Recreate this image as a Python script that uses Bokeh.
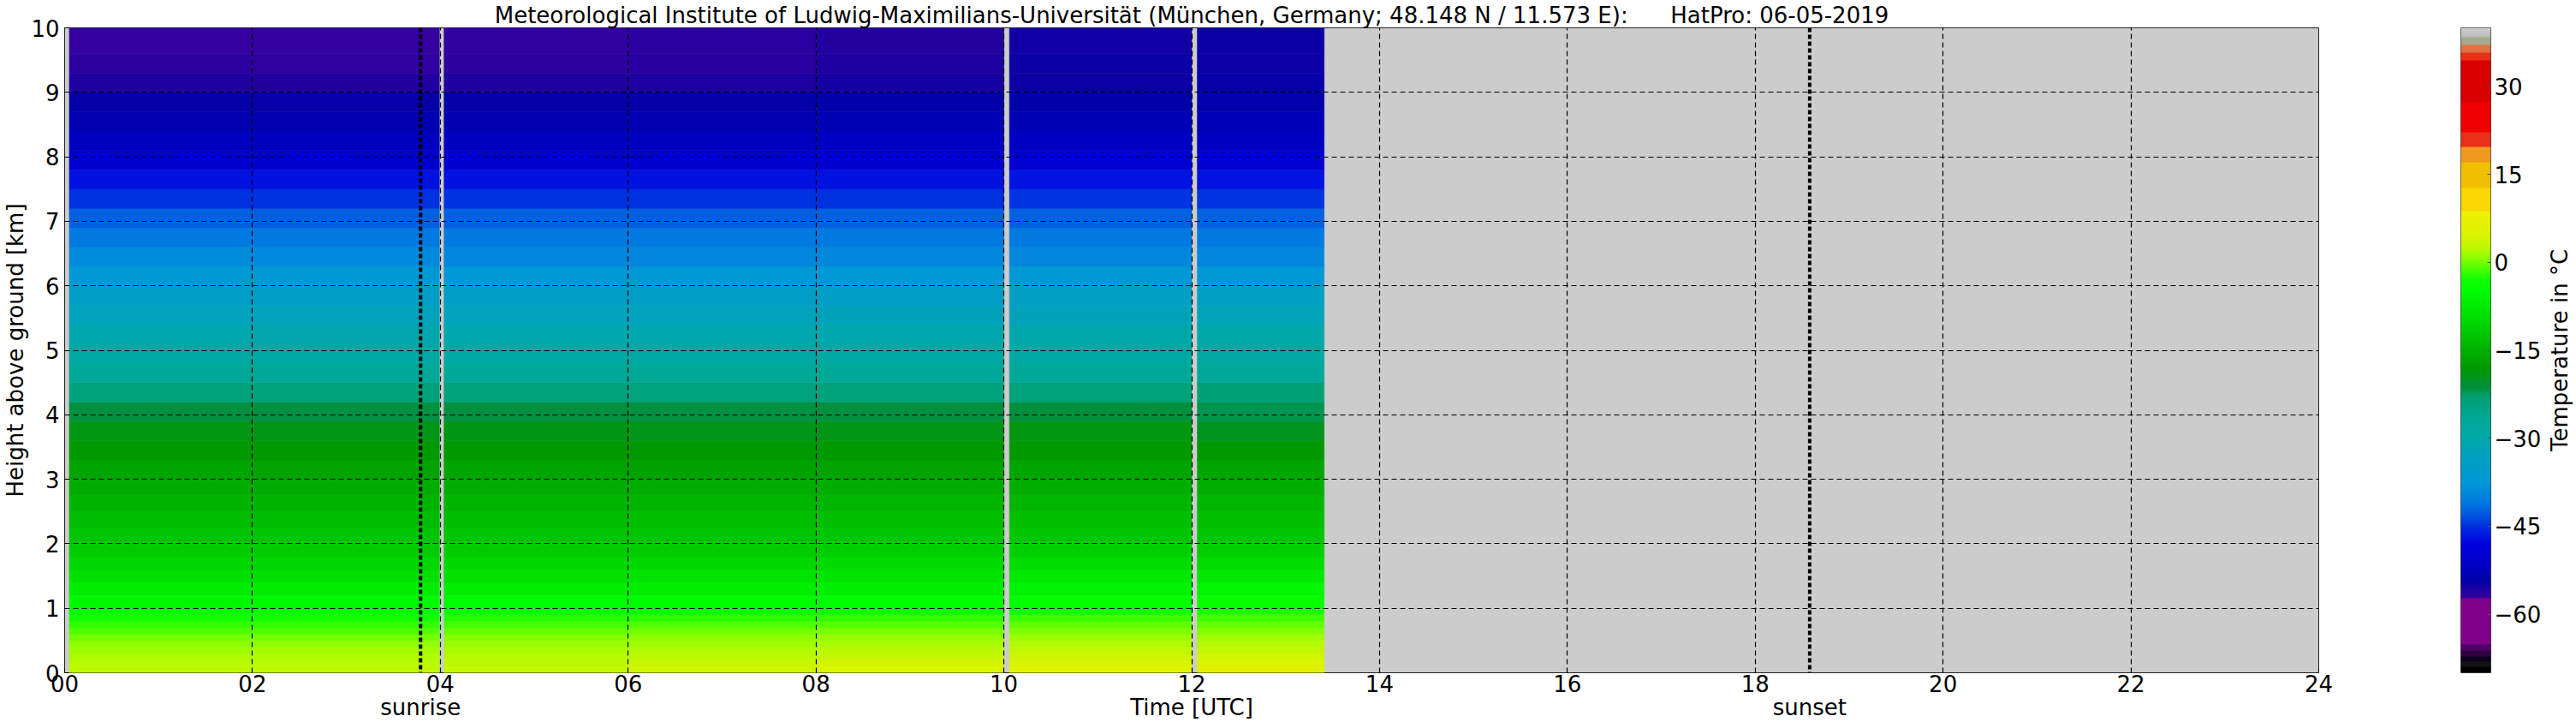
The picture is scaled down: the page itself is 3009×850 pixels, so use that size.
import numpy as np
from bokeh.plotting import figure
from bokeh.models import (ColumnDataSource, LinearColorMapper, FixedTicker,
                          LinearAxis, Span, Title)
from bokeh.layouts import row
from bokeh.transform import transform
from bokeh.embed import file_html
from bokeh.resources import INLINE

# ---------------- data ----------------
# layer boundaries of the retrieval grid [km]
heights = [0, 0.1, 0.2, 0.3, 0.4, 0.5, 0.6, 0.7, 0.8, 0.9, 1.0,
           1.2, 1.4, 1.6, 1.8, 2.0, 2.25, 2.5, 2.75, 3.0,
           3.3, 3.6, 3.9, 4.2, 4.5, 4.8, 5.1, 5.4, 5.7, 6.0,
           6.3, 6.6, 6.9, 7.2, 7.5, 7.8, 8.1, 8.4, 8.7, 9.0, 9.3, 9.6, 10.0]

# time blocks [UTC hours] (gaps = missing data)
block_start = [0.05, 2.0, 4.04, 6.0, 8.0, 10.06, 12.06]
block_end = [2.0, 3.99, 6.0, 8.0, 10.0, 12.0, 13.41]

# temperature profiles [deg C], one per block, bottom -> top
temp_00 = [2.7, 2.3, 1.9, 1.4, 0.8, 0.0, -1.0, -2.0, -3.0, -4.0,
           -5.3, -7.2, -9.0, -10.3, -11.6, -12.6, -13.6, -14.6, -15.6,
           -16.6, -17.9, -19.0, -21.5, -24.0, -26.5, -29.0, -30.5, -32.5, -34.0,
           -37.0, -39.0, -40.8, -42.5, -45.0, -47.0, -50.5, -52.3, -53.5, -54.5, -56.0, -56.8, -57.1]
temp_02 = [2.8, 2.4, 2.0, 1.5, 0.9, 0.1, -0.9, -1.9, -2.9, -3.9,
           -5.2, -7.1, -8.9, -10.2, -11.5, -12.5, -13.5, -14.6, -15.6,
           -16.7, -18.0, -19.2, -21.6, -24.0, -26.5, -29.0, -30.6, -32.5, -34.2,
           -37.2, -39.2, -41.0, -42.6, -45.0, -47.0, -50.5, -52.4, -53.6, -54.6, -56.1, -56.9, -57.1]
temp_04 = [3.0, 2.6, 2.2, 1.8, 1.2, 0.5, -0.5, -1.5, -2.5, -3.6,
           -5.0, -7.0, -8.8, -10.0, -11.5, -12.5, -13.5, -14.5, -15.5,
           -16.6, -17.9, -19.1, -21.5, -24.0, -26.5, -29.0, -30.5, -32.5, -34.0,
           -37.5, -39.5, -41.0, -42.5, -45.0, -47.0, -50.5, -52.3, -53.5, -54.5, -56.0, -56.8, -57.0]
temp_06 = [3.8, 3.2, 2.6, 2.0, 1.4, 0.8, -0.1, -1.1, -2.2, -3.4,
           -4.8, -6.8, -8.6, -9.9, -11.4, -12.4, -13.4, -14.4, -15.5,
           -16.8, -18.0, -19.3, -21.6, -24.2, -26.6, -29.0, -30.5, -32.4, -34.0,
           -37.5, -39.6, -41.0, -42.6, -45.0, -47.0, -50.4, -52.2, -53.4, -54.4, -55.8, -56.4, -56.6]
temp_08 = [4.8, 4.0, 3.2, 2.5, 1.8, 1.0, 0.2, -0.8, -2.0, -3.2,
           -4.6, -6.6, -8.4, -9.8, -11.3, -12.3, -13.3, -14.3, -15.4,
           -16.7, -18.0, -19.2, -21.5, -24.0, -26.5, -29.0, -30.4, -32.3, -34.0,
           -37.4, -39.5, -41.0, -42.5, -45.0, -47.0, -50.3, -52.1, -53.3, -54.3, -55.5, -56.0, -56.2]
temp_10 = [5.5, 4.6, 3.8, 3.0, 2.1, 1.3, 0.4, -0.6, -1.7, -2.8,
           -4.2, -6.2, -8.0, -9.6, -11.1, -12.2, -13.2, -14.2, -15.3,
           -16.6, -17.8, -19.0, -21.3, -23.8, -26.4, -28.8, -30.3, -32.2, -33.8,
           -37.3, -39.4, -40.8, -42.4, -44.8, -46.8, -50.0, -52.0, -53.2, -54.2, -54.8, -55.0, -55.2]
temp_12 = [6.0, 4.8, 4.0, 3.1, 2.2, 1.4, 0.5, -0.5, -1.5, -2.6,
           -4.0, -6.0, -7.8, -9.5, -11.0, -12.2, -13.2, -14.2, -15.3,
           -16.5, -17.8, -19.8, -22.0, -23.5, -26.8, -28.5, -30.2, -32.0, -33.8,
           -37.4, -39.6, -41.0, -42.5, -44.8, -46.8, -50.0, -52.0, -53.0, -54.0, -54.6, -54.8, -55.0]
profiles = [temp_00, temp_02, temp_04, temp_06, temp_08, temp_10, temp_12]

sunrise = 3.79
sunset = 18.58

x_ticks = list(range(0, 25, 2))
y_ticks = list(range(0, 11))
cbar_ticks = [-60, -45, -30, -15, 0, 15, 30]
cbar_low, cbar_high = -70, 40

NB = '\u00a0'
title = ("Meteorological Institute of Ludwig-Maximilians-Universit\u00e4t "
         "(M\u00fcnchen, Germany; 48.148 N / 11.573 E):" + NB * 6 + "HatPro: 06-05-2019")
x_label = "Time [UTC]"
y_label = "Height above ground [km]"
cbar_label = "Temperature in \u00b0C"

# ---------------- colormap (style) ----------------
segments = [
    (-70.0, -69.0, '#000000', '#000000'),
    (-69.0, -68.1, '#121212', '#121212'),
    (-68.1, -67.3, '#100020', '#100020'),
    (-67.3, -66.2, '#300040', '#300040'),
    (-66.2, -65.2, '#500068', '#500068'),
    (-65.2, -57.3, '#800088', '#800088'),
    (-57.3, -56.0, '#3800a0', '#2000a0'),
    (-56.0, -54.3, '#2000a0', '#0000a8'),
    (-54.3, -52.3, '#0000a8', '#0000c0'),
    (-52.3, -48.0, '#0000c0', '#0000e0'),
    (-48.0, -45.0, '#0000e0', '#0030e0'),
    (-45.0, -43.0, '#0030e0', '#0058e0'),
    (-43.0, -41.0, '#0058e0', '#0078e0'),
    (-41.0, -37.7, '#0078e0', '#0098d8'),
    (-37.7, -33.0, '#0098d8', '#00a0c0'),
    (-33.0, -30.0, '#00a0c0', '#00a8a8'),
    (-30.0, -26.5, '#00a8a8', '#00a898'),
    (-26.5, -23.0, '#00a898', '#00a070'),
    (-23.0, -21.5, '#00a070', '#009040'),
    (-21.5, -18.0, '#009040', '#009900'),
    (-18.0, -13.0, '#009900', '#00c000'),
    (-13.0, -9.0, '#00c000', '#00e000'),
    (-9.0, -4.5, '#00e000', '#00ff00'),
    (-4.5, -3.0, '#00ff00', '#10ff00'),
    (-3.0, -1.0, '#10ff00', '#50ff00'),
    (-1.0, 0.9, '#50ff00', '#90ff00'),
    (0.9, 2.3, '#90ff00', '#b8fa00'),
    (2.3, 4.3, '#b8fa00', '#d8f400'),
    (4.3, 8.8, '#d8f400', '#f0f000'),
    (8.8, 12.7, '#f8d800', '#f8d800'),
    (12.7, 17.0, '#f0c000', '#f0c000'),
    (17.0, 19.6, '#f09820', '#f09820'),
    (19.6, 22.1, '#e83018', '#e83018'),
    (22.1, 27.3, '#f00000', '#f00000'),
    (27.3, 34.5, '#d80000', '#d80000'),
    (34.5, 35.8, '#e83018', '#e83018'),
    (35.8, 37.1, '#e07040', '#e07040'),
    (37.1, 38.4, '#a8a890', '#a8a890'),
    (38.4, 40.0, '#b8b8b8', '#d0d0d0'),
]


def _rgb(h):
    return np.array([int(h[i:i + 2], 16) for i in (1, 3, 5)], dtype=float)


N = 880
palette = []
levels = []
for k in range(N):
    t = cbar_low + (k + 0.5) * (cbar_high - cbar_low) / N
    levels.append(t)
    for (a, b, ca, cb) in segments:
        if a <= t <= b:
            f = (t - a) / (b - a)
            c = _rgb(ca) * (1 - f) + _rgb(cb) * f
            break
    palette.append('#%02x%02x%02x' % tuple(int(round(v)) for v in c))

mapper = LinearColorMapper(palette=palette, low=cbar_low, high=cbar_high)

# ---------------- build cells ----------------
L, R, B, T, V = [], [], [], [], []
for t0, t1, prof in zip(block_start, block_end, profiles):
    for i, temp in enumerate(prof):
        L.append(t0); R.append(t1)
        B.append(heights[i]); T.append(heights[i + 1])
        V.append(temp)
src = ColumnDataSource(dict(left=L, right=R, bottom=B, top=T, temp=V))

FONT = 'DejaVu Sans'
FS = '26px'
H = 849

# ---------------- main figure ----------------
WP = 2728
p = figure(width=WP, height=H, x_range=(0, 24), y_range=(0, 10),
           output_backend='svg', toolbar_location=None,
           min_border_left=72, min_border_right=WP - 2708,
           min_border_top=31, min_border_bottom=H - 785)
p.title = Title(text=title, align='center', text_font=FONT, text_font_size='26px',
                text_font_style='normal', text_color='black', standoff=0)
p.background_fill_color = '#cccccc'
p.border_fill_color = 'white'
p.outline_line_color = '#222222'
p.outline_line_width = 1

p.quad(left='left', right='right', bottom='bottom', top='top', source=src,
       fill_color=transform('temp', mapper), line_color=transform('temp', mapper),
       line_width=0.6)

p.xaxis.ticker = FixedTicker(ticks=x_ticks)
p.xaxis.major_label_overrides = {t: '%02d' % t for t in x_ticks}
p.yaxis.ticker = FixedTicker(ticks=y_ticks)
p.yaxis.axis_label = y_label
p.yaxis.axis_label_standoff = 0
p.yaxis.axis_label_text_font = FONT
p.yaxis.axis_label_text_font_size = FS
p.yaxis.axis_label_text_font_style = 'normal'
p.yaxis.axis_label_text_color = 'black'

# second row below the time axis: sunrise / axis title / sunset
x2 = LinearAxis(ticker=FixedTicker(ticks=[sunrise, 12, sunset]),
                major_label_overrides={sunrise: 'sunrise', 12: x_label, sunset: 'sunset'})
p.add_layout(x2, 'below')

for ax in (p.xaxis[0], p.yaxis[0], x2):
    ax.axis_line_color = None
    ax.major_tick_in = 5
    ax.major_tick_out = 0
    ax.major_tick_line_color = 'black'
    ax.minor_tick_line_color = None
    ax.major_label_text_font = FONT
    ax.major_label_text_font_size = FS
    ax.major_label_text_color = 'black'
x2.major_tick_line_color = None
x2.major_label_standoff = 0
p.xaxis[0].major_label_standoff = 2
p.yaxis.major_label_standoff = 6

p.grid.grid_line_color = 'black'
p.grid.grid_line_dash = '6 4'
p.grid.grid_line_width = 1.2
p.grid.level = 'overlay'

for loc in (sunrise, sunset):
    p.add_layout(Span(location=loc, dimension='height', line_color='black',
                      line_width=4, line_dash='5 3'))

# ---------------- colour bar figure ----------------
CB_LEFT, CB_RIGHT = 2874, 2913
WC = 243
c = figure(width=WC, height=H, x_range=(0, 1), y_range=(cbar_low, cbar_high),
           output_backend='svg', toolbar_location=None,
           x_axis_location=None, y_axis_location='right',
           min_border_left=CB_LEFT - WP, min_border_right=WP + WC - CB_RIGHT,
           min_border_top=28, min_border_bottom=H - 787)
c.image(image=[np.array(levels).reshape(N, 1)], x=0, y=cbar_low, dw=1,
        dh=cbar_high - cbar_low, color_mapper=mapper)
c.grid.visible = False
c.outline_line_color = '#444444'
c.border_fill_color = 'white'
c.background_fill_color = None
cy = c.yaxis[0]
cy.ticker = FixedTicker(ticks=cbar_ticks)
cy.major_label_overrides = {t: str(t).replace('-', '\u2212') for t in cbar_ticks}
cy.axis_line_color = None
cy.major_tick_in = 4
cy.major_tick_out = 0
cy.major_tick_line_color = '#555555'
cy.minor_tick_line_color = None
cy.major_label_standoff = 4
cy.major_label_text_font = FONT
cy.major_label_text_font_size = FS
cy.major_label_text_color = 'black'

# ---------------- colour bar title (axis label of a slim figure) ----------------
WD = 37
d = figure(width=WD, height=H, x_range=(0, 1), y_range=(cbar_low, cbar_high),
           output_backend='svg', toolbar_location=None,
           x_axis_location=None, y_axis_location='left',
           min_border_left=31, min_border_right=0,
           min_border_top=28, min_border_bottom=H - 787)
d.grid.visible = False
d.outline_line_color = None
d.background_fill_color = None
d.border_fill_color = 'white'
dy = d.yaxis[0]
dy.ticker = FixedTicker(ticks=[])
dy.axis_line_color = None
dy.major_tick_line_color = None
dy.minor_tick_line_color = None
dy.major_label_text_font_size = '0px'
dy.axis_label = cbar_label
dy.axis_label_standoff = 0
dy.axis_label_text_font = FONT
dy.axis_label_text_font_size = FS
dy.axis_label_text_font_style = 'normal'
dy.axis_label_text_color = 'black'

layout = row(p, c, d)
open("out.html", "w").write(file_html(layout, INLINE))
